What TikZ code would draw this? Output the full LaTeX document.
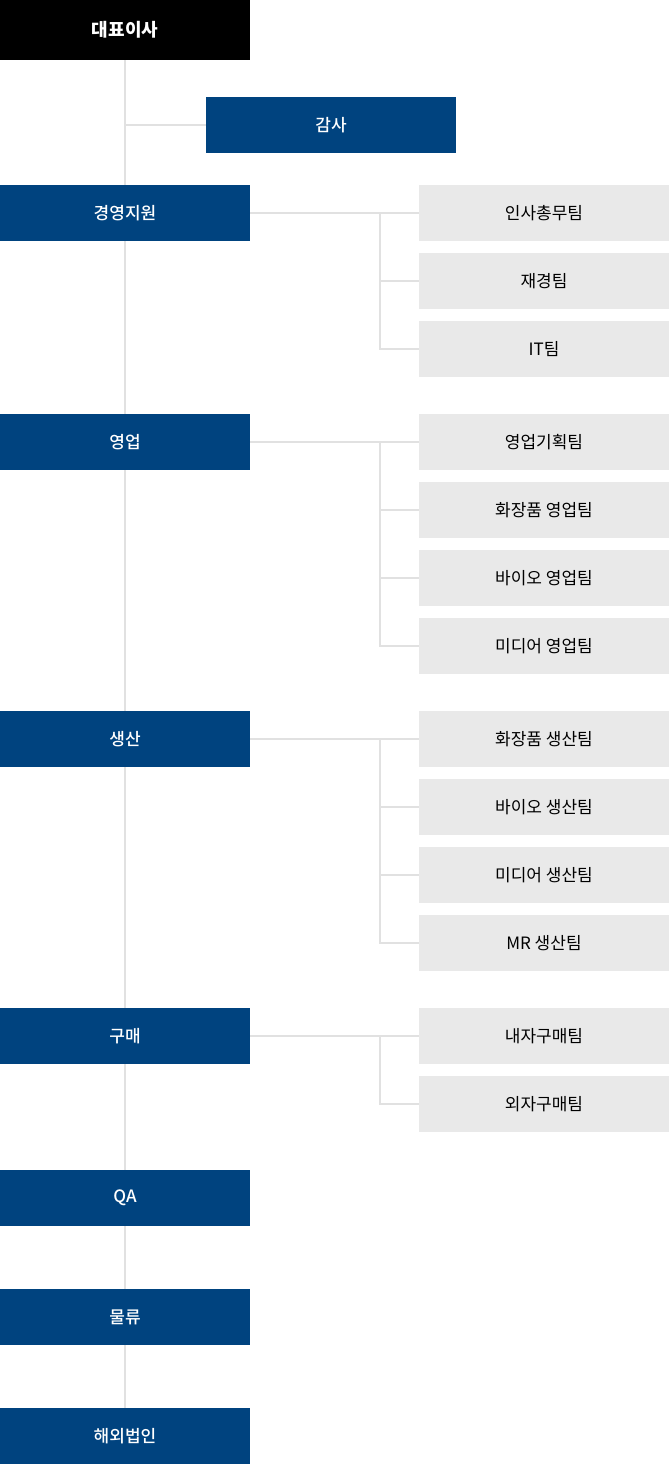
\documentclass[tikz,border=0pt]{standalone}
\usepackage{fontspec}
\setmainfont{Noto Sans CJK KR}
\newfontfamily\headfont{Noto Sans CJK KR Medium}
\usetikzlibrary{backgrounds}

\definecolor{headblue}{RGB}{0,67,127}
\definecolor{teamgray}{RGB}{233,233,233}
\definecolor{linegray}{RGB}{225,225,225}

\tikzset{
  ceobox/.style={fill=black, text=white, minimum width=250pt, minimum height=60pt,
    inner sep=0pt, font=\fontsize{18}{22}\selectfont\bfseries},
  headbox/.style={fill=headblue, text=white, minimum width=250pt, minimum height=56pt,
    inner sep=0pt, font=\fontsize{17}{20}\selectfont\headfont},
  teambox/.style={fill=teamgray, text=black, minimum width=250pt, minimum height=56pt,
    inner sep=0pt, font=\fontsize{17}{20}\selectfont},
  orgline/.style={draw=linegray, line width=2pt},
}

\begin{document}
\begin{tikzpicture}[x=1pt, y=-1pt]
\useasboundingbox (0,0) rectangle (670,1464);

% top
\node[ceobox] (ceo) at (125,30) {대표이사};
\node[headbox] (audit) at (331,125) {감사};

% divisions
\node[headbox] (mgmt) at (125,213) {경영지원};
\node[headbox] (sales) at (125,442) {영업};
\node[headbox] (prod) at (125,739) {생산};
\node[headbox] (purch) at (125,1036) {구매};
\node[headbox] (qa) at (125,1198) {QA};
\node[headbox] (logis) at (125,1317) {물류};
\node[headbox] (abroad) at (125,1436) {해외법인};

% teams
\node[teambox] (mgmt1) at (544,213) {인사총무팀};
\node[teambox] (mgmt2) at (544,281) {재경팀};
\node[teambox] (mgmt3) at (544,349) {IT팀};

\node[teambox] (sales1) at (544,442) {영업기획팀};
\node[teambox] (sales2) at (544,510) {화장품 영업팀};
\node[teambox] (sales3) at (544,578) {바이오 영업팀};
\node[teambox] (sales4) at (544,646) {미디어 영업팀};

\node[teambox] (prod1) at (544,739) {화장품 생산팀};
\node[teambox] (prod2) at (544,807) {바이오 생산팀};
\node[teambox] (prod3) at (544,875) {미디어 생산팀};
\node[teambox] (prod4) at (544,943) {MR 생산팀};

\node[teambox] (purch1) at (544,1036) {내자구매팀};
\node[teambox] (purch2) at (544,1104) {외자구매팀};

\begin{pgfonlayer}{background}
% trunk
\draw[orgline] (ceo.south) -- (abroad.north);
\draw[orgline] (ceo.south |- audit.west) -- (audit.west);

% 경영지원
\draw[orgline] (mgmt.east) -- (mgmt1.west);
\draw[orgline] ([xshift=-39pt]mgmt1.west) |- (mgmt2.west);
\draw[orgline] ([xshift=-39pt]mgmt1.west) |- (mgmt3.west);

% 영업
\draw[orgline] (sales.east) -- (sales1.west);
\draw[orgline] ([xshift=-39pt]sales1.west) |- (sales2.west);
\draw[orgline] ([xshift=-39pt]sales1.west) |- (sales3.west);
\draw[orgline] ([xshift=-39pt]sales1.west) |- (sales4.west);

% 생산
\draw[orgline] (prod.east) -- (prod1.west);
\draw[orgline] ([xshift=-39pt]prod1.west) |- (prod2.west);
\draw[orgline] ([xshift=-39pt]prod1.west) |- (prod3.west);
\draw[orgline] ([xshift=-39pt]prod1.west) |- (prod4.west);

% 구매
\draw[orgline] (purch.east) -- (purch1.west);
\draw[orgline] ([xshift=-39pt]purch1.west) |- (purch2.west);
\end{pgfonlayer}
\end{tikzpicture}
\end{document}
